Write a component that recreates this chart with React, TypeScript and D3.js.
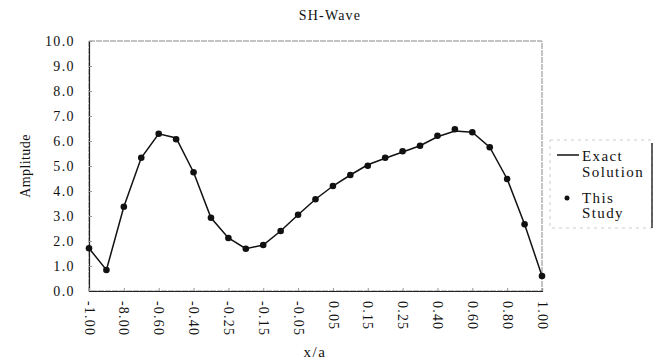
import React, { useRef, useEffect } from 'react';
import * as d3 from 'd3';

// categories along x/a (every other one is labelled, as in the original figure)
const categories = [
  '-1.00', '-0.90', '-8.00', '-0.70', '-0.60', '-0.50', '-0.40', '-0.30', '-0.25',
  '-0.20', '-0.15', '-0.10', '-0.05', '0.00', '0.05', '0.10', '0.15', '0.20',
  '0.25', '0.30', '0.40', '0.50', '0.60', '0.70', '0.80', '0.90', '1.00'
];
const labelled = [
  '-1.00', '-8.00', '-0.60', '-0.40', '-0.25', '-0.15', '-0.05',
  '0.05', '0.15', '0.25', '0.40', '0.60', '0.80', '1.00'
];
const exactSolution = [
  1.71, 0.84, 3.37, 5.33, 6.29, 6.12, 4.75, 2.93, 2.12,
  1.69, 1.84, 2.40, 3.05, 3.67, 4.20, 4.64, 5.05, 5.31,
  5.56, 5.81, 6.17, 6.40, 6.35, 5.75, 4.48, 2.67, 0.60
];
const thisStudy = [
  1.71, 0.84, 3.37, 5.33, 6.29, 6.07, 4.75, 2.93, 2.12,
  1.69, 1.84, 2.40, 3.05, 3.67, 4.20, 4.64, 5.01, 5.33,
  5.59, 5.81, 6.21, 6.47, 6.35, 5.75, 4.48, 2.67, 0.60
];
const yTicks = [0, 1, 2, 3, 4, 5, 6, 7, 8, 9, 10];

const FONT = '"Liberation Serif", "DejaVu Serif", serif';

function App() {
  const ref = useRef<SVGSVGElement>(null);

  useEffect(() => {
    const margin = { top: 41, right: 125, bottom: 73, left: 89 };
    const width = 667 - margin.left - margin.right;
    const height = 364 - margin.top - margin.bottom;

    const root = d3.select(ref.current);
    root.selectAll('*').remove();
    const svg = root.append('g')
      .attr('transform', 'translate(' + margin.left + ',' + margin.top + ')');

    const x = d3.scalePoint<string>().domain(categories).range([0, width]).padding(0);
    const y = d3.scaleLinear().domain([0, 10]).range([height, 0]);

    // plot frame: faint top/right, dark left/bottom
    svg.append('rect')
      .attr('width', width).attr('height', height)
      .attr('fill', 'none').attr('stroke', '#888').attr('stroke-width', 1)
      .attr('stroke-dasharray', '6,1');

    const yAxis = svg.append('g')
      .call(d3.axisLeft(y).tickValues(yTicks).tickSize(-3).tickPadding(14)
        .tickFormat(d => d3.format('.1f')(d as number)));
    yAxis.select('.domain').attr('stroke', '#222').attr('stroke-width', 1.2);
    yAxis.selectAll('.tick line').attr('stroke', '#999');
    yAxis.selectAll('text')
      .attr('font-family', FONT).attr('font-size', 14)
      .attr('letter-spacing', 1.4).attr('fill', '#111');

    const xAxis = svg.append('g')
      .attr('transform', 'translate(0,' + height + ')')
      .call(d3.axisBottom(x).tickValues(labelled).tickSize(-3).tickFormat(d => d));
    xAxis.select('.domain').attr('stroke', '#222').attr('stroke-width', 1.2);
    xAxis.selectAll('.tick line').attr('stroke', '#999');
    xAxis.selectAll('text')
      .attr('font-family', FONT).attr('font-size', 14)
      .attr('letter-spacing', 1.2).attr('fill', '#111')
      .attr('transform', 'rotate(90)')
      .attr('x', 10).attr('y', 0).attr('dy', '0.35em')
      .style('text-anchor', 'start');

    const line = d3.line<number>()
      .x((d, i) => x(categories[i]) as number)
      .y(d => y(d));

    svg.append('path')
      .datum(exactSolution)
      .attr('d', line)
      .attr('fill', 'none')
      .attr('stroke', '#111')
      .attr('stroke-width', 1.5);

    svg.selectAll('.dot')
      .data(thisStudy)
      .enter().append('circle')
      .attr('cx', (d, i) => x(categories[i]) as number)
      .attr('cy', d => y(d))
      .attr('r', 3.3)
      .attr('fill', '#111');

    // titles
    root.append('text')
      .attr('x', 330).attr('y', 20)
      .attr('text-anchor', 'middle')
      .attr('font-family', FONT).attr('font-size', 14).attr('letter-spacing', 1.2)
      .attr('fill', '#111')
      .text('SH-Wave');

    root.append('text')
      .attr('x', 315).attr('y', 357)
      .attr('text-anchor', 'middle')
      .attr('font-family', FONT).attr('font-size', 15).attr('letter-spacing', 1.6)
      .attr('fill', '#111')
      .text('x/a');

    root.append('text')
      .attr('transform', 'translate(30,166) rotate(-90)')
      .attr('text-anchor', 'middle')
      .attr('font-family', FONT).attr('font-size', 14).attr('letter-spacing', 0.4)
      .attr('fill', '#111')
      .text('Amplitude');

    // legend
    const lg = root.append('g');
    lg.append('rect')
      .attr('x', 550).attr('y', 140).attr('width', 102).attr('height', 88)
      .attr('fill', 'none').attr('stroke', '#ccc').attr('stroke-dasharray', '3,4');
    lg.append('line')
      .attr('x1', 652).attr('x2', 652).attr('y1', 143).attr('y2', 228)
      .attr('stroke', '#111').attr('stroke-width', 1.3);
    lg.append('line')
      .attr('x1', 557).attr('x2', 579).attr('y1', 155).attr('y2', 155)
      .attr('stroke', '#111').attr('stroke-width', 1.5);
    lg.append('circle')
      .attr('cx', 567).attr('cy', 198).attr('r', 2.5).attr('fill', '#111');
    const legendText = [
      { t: 'Exact', y: 161 },
      { t: 'Solution', y: 177 },
      { t: 'This', y: 203 },
      { t: 'Study', y: 218 }
    ];
    lg.selectAll('.lt')
      .data(legendText)
      .enter().append('text')
      .attr('x', 582).attr('y', d => d.y)
      .attr('font-family', FONT).attr('font-size', 15).attr('letter-spacing', 1.4)
      .attr('fill', '#111')
      .text(d => d.t);
  }, []);

  return (
    <svg ref={ref} width="667" height="364"
      style={{ position: 'absolute', left: 0, top: 0, background: '#fff' }} />
  );
}

export default App;
